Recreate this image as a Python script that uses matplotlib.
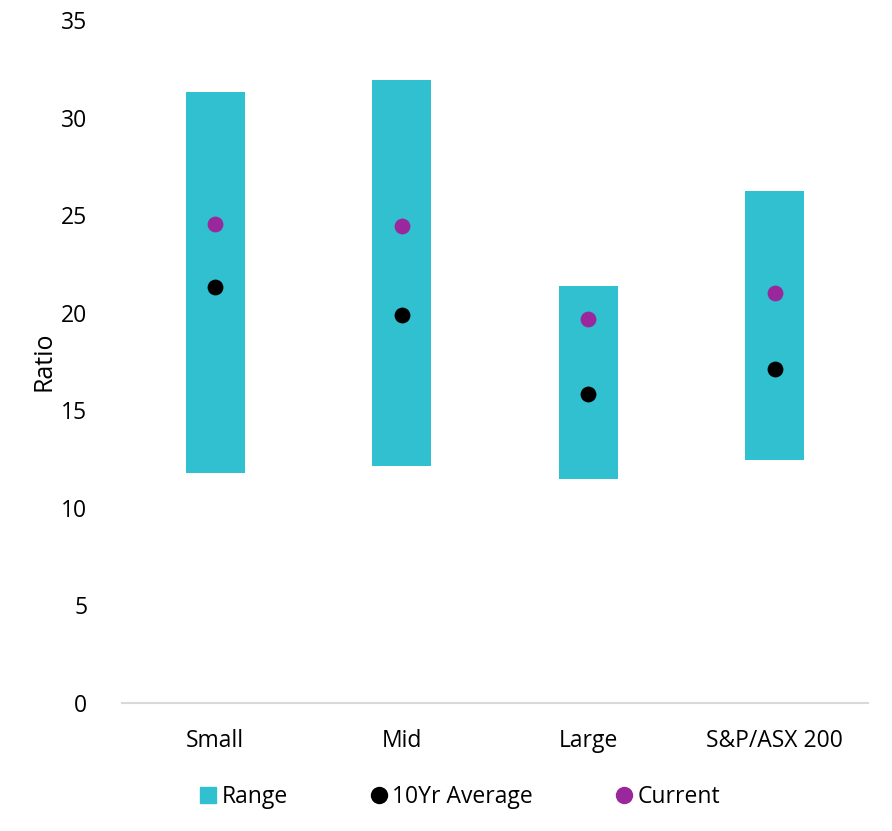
import matplotlib
matplotlib.use("Agg")
import matplotlib.pyplot as plt
from matplotlib.lines import Line2D

plt.rcParams['font.family'] = ['Open Sans', 'DejaVu Sans']

categories = ["Small", "Mid", "Large", "S&P/ASX 200"]
range_low = [11.8, 12.15, 11.5, 12.43]
range_high = [31.3, 31.9, 21.37, 26.22]
avg_10yr = [21.3, 19.9, 15.85, 17.12]
current = [24.55, 24.45, 19.68, 21.02]
yticks = [0, 5, 10, 15, 20, 25, 30, 35]

teal = "#31C0CF"
purple = "#9A289C"

fig = plt.figure(figsize=(8.92, 8.31), dpi=100)
ax = fig.add_axes([122/892, 1-703/831, (868-122)/892, (703-20)/831])

x = list(range(len(categories)))
heights = [h - l for h, l in zip(range_high, range_low)]
ax.bar(x, heights, bottom=range_low, width=0.316, color=teal, zorder=2)
ax.scatter(x, avg_10yr, s=130, color="black", zorder=3, linewidths=0)
ax.scatter(x, current, s=130, color=purple, zorder=3, linewidths=0)

ax.set_xlim(-0.5, 3.5)
ax.set_ylim(0, 35)
ax.set_yticks(yticks)
ax.set_xticks(x)
ax.set_xticklabels(categories)
for s in ["top", "right", "left"]:
    ax.spines[s].set_visible(False)
ax.spines["bottom"].set_color("#d9d9d9")
ax.spines["bottom"].set_linewidth(1.5)
ax.tick_params(axis="y", length=0, pad=25, labelsize=16.5, colors="black")
ax.tick_params(axis="x", length=0, pad=19, labelsize=16.5, colors="black")
ax.set_ylabel("Ratio", fontsize=18, labelpad=3)

handles = [
    Line2D([], [], marker='s', linestyle='none', color=teal, markersize=11),
    Line2D([], [], marker='o', linestyle='none', color='black', markersize=11.5),
    Line2D([], [], marker='o', linestyle='none', color=purple, markersize=11.5),
]
fig.legend(handles, ["Range", "10Yr Average", "Current"], loc="center",
           bbox_to_anchor=(460/892, 1-797/831), ncol=3, frameon=False,
           fontsize=16.5, handlelength=0.7, handletextpad=0.25, columnspacing=3.6)

fig.savefig("out.png", dpi=100)
